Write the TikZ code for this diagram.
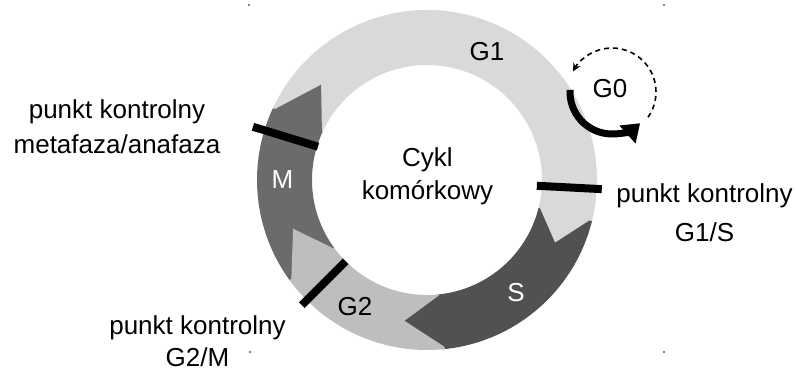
\documentclass[tikz,border=0pt]{standalone}
\usepackage{fontspec}
\setmainfont{Liberation Sans}
\usetikzlibrary{arrows.meta}
\definecolor{gOneGray}{HTML}{D9D9D9}
\definecolor{gTwoGray}{HTML}{BEBEBE}
\definecolor{sGray}{HTML}{515151}
\definecolor{mGray}{HTML}{6B6B6B}

\begin{document}
\begin{tikzpicture}[x=1pt, y=1pt,
    phase/.style={font=\fontsize{26}{35}\selectfont, inner sep=0pt},
    lbl/.style={font=\fontsize{26}{35}\selectfont, align=center, anchor=base, inner sep=0pt},
    checkpoint/.style={line width=8pt}]
    \useasboundingbox (0,0) rectangle (796,372);

    % Ring centre
    \coordinate (C) at (427,192);

    % Phase bands
    \fill[gOneGray] ([shift={(155:170)}]C) arc (155:-15:170) -- ([shift={(-15:115)}]C) arc (-15:155:115) -- cycle;
    \fill[sGray] ([shift={(-14:170)}]C) arc (-14:-85:170) -- ([shift={(-85:115)}]C) arc (-85:-14:115) -- cycle;
    \fill[gTwoGray] ([shift={(-84:170)}]C) arc (-84:-145:170) -- ([shift={(-145:115)}]C) arc (-145:-84:115) -- cycle;
    \fill[mGray] ([shift={(-144:170)}]C) arc (-144:-205:170) -- ([shift={(-205:115)}]C) arc (-205:-144:115) -- cycle;

    % Arrow heads
    \fill[gOneGray] ([shift={(-13:170)}]C) -- ([shift={(-26:142.5)}]C) -- ([shift={(-13:115)}]C) -- cycle;
    \fill[sGray] ([shift={(-83:170)}]C) -- ([shift={(-99:142.5)}]C) -- ([shift={(-83:115)}]C) -- cycle;
    \fill[gTwoGray] ([shift={(-143:170)}]C) -- ([shift={(-160:142.5)}]C) -- ([shift={(-143:115)}]C) -- cycle;
    \fill[mGray] ([shift={(-204:170)}]C) -- ([shift={(-222:142.5)}]C) -- ([shift={(-204:115)}]C) -- cycle;

    % Checkpoints
    \coordinate (maIn) at ([shift={(163:114)}]C);
    \coordinate (maOut) at ([shift={(163:182)}]C);
    \draw[checkpoint] (maIn) -- (maOut);
    \coordinate (gsIn) at ([shift={(-3:110)}]C);
    \coordinate (gsOut) at ([shift={(-3:175)}]C);
    \draw[checkpoint] (gsIn) -- (gsOut);
    \coordinate (gmIn) at ([shift={(225:115)}]C);
    \coordinate (gmOut) at ([shift={(225:177)}]C);
    \draw[checkpoint] (gmIn) -- (gmOut);

    % G0 loop
    \coordinate (G0c) at (612,280);
    \draw[line width=7pt, -{Triangle[length=17pt, width=23pt]}] ([shift={(177:42)}]G0c) arc (177:312:42);
    \draw[line width=1.6pt, dash pattern=on 5pt off 4pt, -{Stealth[length=8pt, width=8pt]}] ([shift={(-35:44)}]G0c) arc (-35:152:44);

    % Phase names
    \node[phase] (g1) at (487,320) {G1};
    \node[phase, white] (m) at (282.5,192) {M};
    \node[phase, white] (s) at (516,79) {S};
    \node[phase] (g2) at (355,65.5) {G2};
    \node[phase] (g0) at (610,283) {G0};

    % Labels (anchored at the last baseline)
    \node[lbl] (cycle) at (427.5,172) {Cykl\\[-2pt]komórkowy};
    \node[lbl] (maLbl) at (117,218) {punkt kontrolny\\metafaza/anafaza};
    \node[lbl] (gsLbl) at (704.5,130) {punkt kontrolny\\[4pt]G1/S};
    \node[lbl] (gmLbl) at (197.5,5) {punkt kontrolny\\[-3pt]G2/M};

    % Crop marks
    \fill[gray] (248,366) rectangle ++(2,2);
    \fill[gray] (663,366) rectangle ++(2,2);
    \fill[gray] (249,19) rectangle ++(2,2);
    \fill[gray] (663,19) rectangle ++(2,2);
\end{tikzpicture}
\end{document}
